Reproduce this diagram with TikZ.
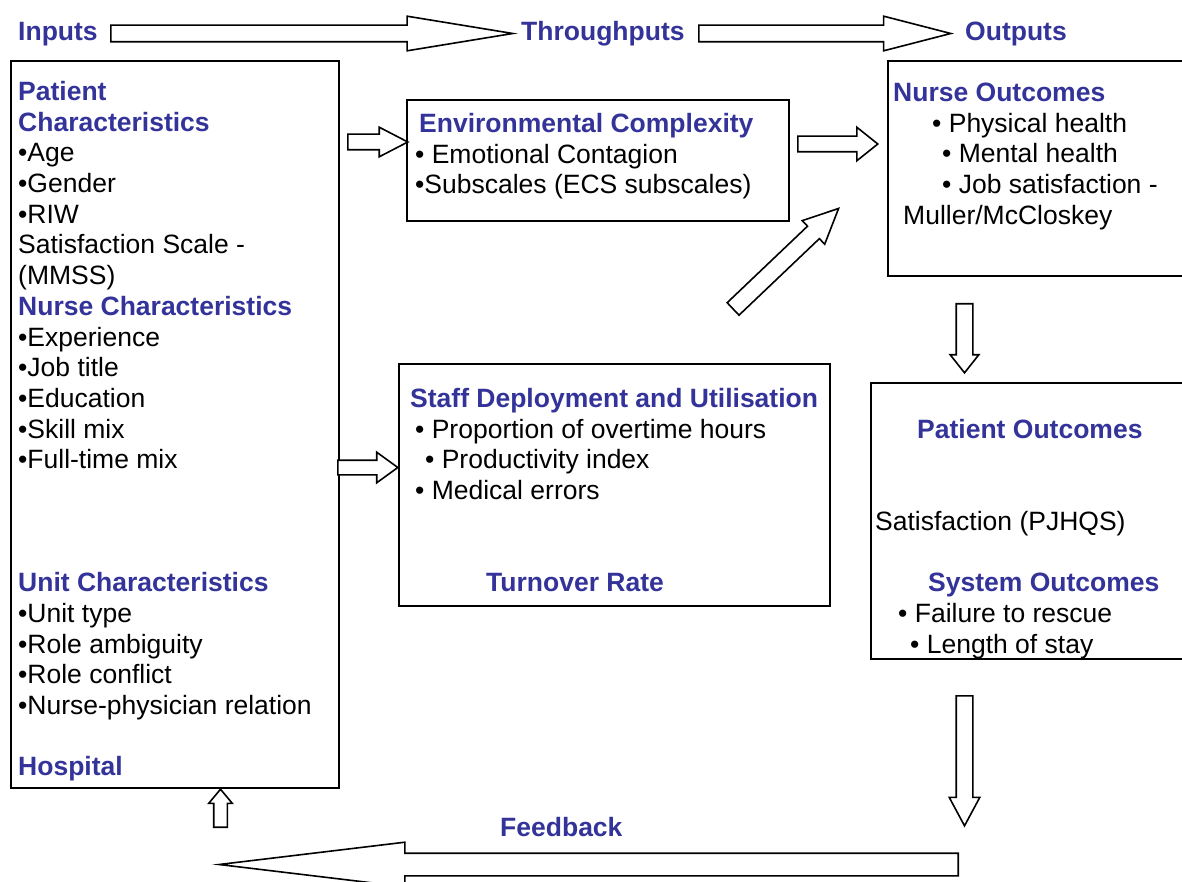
\documentclass[tikz,border=0pt]{standalone}
\usepackage{fontspec}
\setmainfont{Liberation Sans}
\usepackage{xcolor}
\usetikzlibrary{shapes.arrows}

\definecolor{hdblue}{RGB}{51,51,153}
\newcommand{\bodyfont}{\fontsize{26.5}{30.7}\selectfont}
\newcommand{\hd}[1]{{\bfseries\color{hdblue}#1}}

\tikzset{
  panel/.style={rectangle, draw, line width=1.6pt, inner sep=0pt, anchor=north west},
  txt/.style={anchor=north west, inner sep=0pt, align=left, font=\bodyfont},
  blockarrow/.style n args={4}{single arrow, draw, line width=1.6pt, fill=white,
    inner sep=0pt, inner ysep=#1, single arrow head extend=#2,
    single arrow tip angle=#3, minimum height=#4, anchor=tail}
}

\begin{document}
\begin{tikzpicture}[x=1pt, y=-1pt]
        \useasboundingbox (0,0) rectangle (1182,882);
        \fill[white] (0,0) rectangle (1182,882);

        % Boxes
        \node[panel, minimum width=328pt, minimum height=727pt] (inbox) at (10,60) {};
        \node[panel, minimum width=382pt, minimum height=121pt] (envbox) at (406,99) {};
        \node[panel, minimum width=431pt, minimum height=242pt] (staffbox) at (398,363) {};
        \node[panel, minimum width=320pt, minimum height=215pt] (nursebox) at (887,60) {};
        \node[panel, minimum width=320pt, minimum height=276pt] (patbox) at (870,382) {};

        % Headings
        \node[txt] (inputs) at (18,18.8) {\strut\hd{Inputs}};
        \node[txt] (throughputs) at (521,18.8) {\strut\hd{Throughputs}};
        \node[txt] (outputs) at (965,18.8) {\strut\hd{Outputs}};
        \node[txt] (feedback) at (500,814.8) {\strut\hd{Feedback}};

        % Box texts
        \node[txt] (intxt) at (18,78.8) {\strut\hd{Patient}\\
          \hd{Characteristics}\\
          •Age\\ •Gender\\ •RIW\\ Satisfaction Scale -\\ (MMSS)\\
          \hd{Nurse Characteristics}\\
          •Experience\\ •Job title\\ •Education\\ •Skill mix\\ •Full-time mix\\
          ~\\ ~\\ ~\\
          \hd{Unit Characteristics}\\
          •Unit type\\ •Role ambiguity\\ •Role conflict\\ •Nurse-physician relation\\
          ~\\
          \hd{Hospital}};
        \node[txt] (envtxt) at (415,110.8) {\strut\hspace*{4pt}\hd{Environmental Complexity}\\
          • Emotional Contagion\\ •Subscales (ECS subscales)};
        \node[txt] (nursetxt) at (893,79.8) {\strut\hd{Nurse Outcomes}\\
          \hspace*{39pt}• Physical health\\ \hspace*{49pt}• Mental health\\
          \hspace*{49pt}• Job satisfaction -\\ \hspace*{10pt}Muller/McCloskey};
        \node[txt] (stafftxt) at (410,385.8) {\strut\hd{Staff Deployment and Utilisation}\\
          \hspace*{5pt}• Proportion of overtime hours\\ \hspace*{15pt}• Productivity index\\
          \hspace*{5pt}• Medical errors\\ ~\\ ~\\ \hspace*{76pt}\hd{Turnover Rate}};
        \node[txt] (pattxt) at (875,416.8) {\strut\hspace*{42pt}\hd{Patient Outcomes}\\
          ~\\ ~\\ Satisfaction (PJHQS)\\ ~\\ \hspace*{53pt}\hd{System Outcomes}\\
          \hspace*{23pt}• Failure to rescue\\ \hspace*{35pt}• Length of stay};

        % Block arrows
        \node[blockarrow={7.5pt}{9pt}{18.6}{402pt}] (inthru) at (110,33.5) {};
        \node[blockarrow={7.5pt}{9pt}{28.9}{252pt}] (thruout) at (698,33.5) {};
        \node[blockarrow={7pt}{7pt}{54.8}{60pt}] (toenv) at (347,142) {};
        \node[blockarrow={7pt}{9pt}{77.3}{80pt}] (envnurse) at (797,144) {};
        \node[blockarrow={6.5pt}{8pt}{71.9}{60pt}] (tostaff) at (337,467.5) {};
        \node[blockarrow={7.8pt}{7.7pt}{50.3}{145.7pt}, rotate=43.6] (staffnurse) at (732.5,309.5) {};
        \node[blockarrow={7.5pt}{6pt}{76.9}{69pt}, rotate=-90] (nursepat) at (964.5,303) {};
        \node[blockarrow={7.5pt}{7pt}{56.5}{130pt}, rotate=-90] (patfeed) at (964.5,695) {};
        \node[blockarrow={10.5pt}{11pt}{13.7}{739pt}, rotate=180] (feedarr) at (959,864.5) {};
        \node[blockarrow={6pt}{5pt}{79.6}{38pt}, rotate=90] (feedin) at (220.5,828) {};

    \end{tikzpicture}
\end{document}
